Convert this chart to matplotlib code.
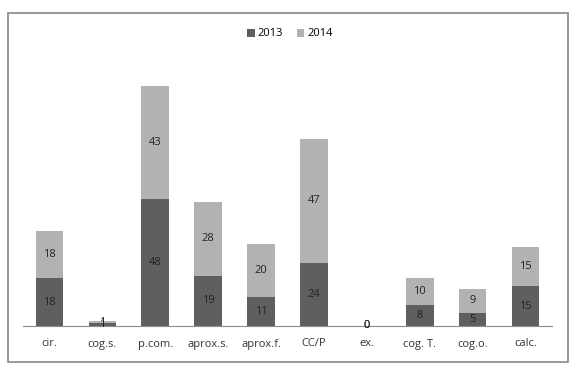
import numpy as np
import matplotlib.pyplot as plt
from matplotlib.patches import Rectangle

plt.rcParams['font.family'] = ['Open Sans', 'DejaVu Sans']

categories = ["cir.", "cog.s.", "p.com.", "aprox.s.", "aprox.f.", "CC/P", "ex.", "cog. T.", "cog.o.", "calc."]
v2013 = [18, 1, 48, 19, 11, 24, 0, 8, 5, 15]
v2014 = [18, 1, 43, 28, 20, 47, 0, 10, 9, 15]

c2013 = '#5f5f5f'
c2014 = '#b2b2b2'

W, H = 577, 373
fig = plt.figure(figsize=(W / 100, H / 100), dpi=100)
fig.patches.append(Rectangle((8 / W, 1 - 362 / H), 560 / W, 349 / H,
                             transform=fig.transFigure, fill=False,
                             edgecolor='#878787', linewidth=1.2))

ax = fig.add_axes([23 / W, 1 - 326 / H, 529 / W, 264 / H])
x = np.arange(len(categories))
b1 = ax.bar(x, v2013, 0.52, color=c2013, label='2013')
b2 = ax.bar(x, v2014, 0.52, bottom=v2013, color=c2014, label='2014')

for i in range(len(categories)):
    ax.text(x[i], v2013[i] / 2, str(v2013[i]), ha='center', va='center', fontsize=8, color='#222222')
    ax.text(x[i], v2013[i] + v2014[i] / 2, str(v2014[i]), ha='center', va='center', fontsize=8, color='#222222')

ax.set_xlim(-0.5, len(categories) - 0.5)
ax.set_ylim(0, 100)
ax.set_yticks([])
ax.set_xticks(x)
ax.set_xticklabels(categories, fontsize=8, color='#333333')
ax.tick_params(axis='x', length=0, pad=9)
for s in ['top', 'right', 'left']:
    ax.spines[s].set_visible(False)
ax.spines['bottom'].set_color('#8c8c8c')

fig.legend(handles=[b1, b2], loc='center', bbox_to_anchor=(290 / W, 1 - 34 / H),
           ncol=2, frameon=False, fontsize=8, handlelength=0.7, handleheight=0.7,
           columnspacing=1.2, handletextpad=0.3)

fig.savefig('out.png', dpi=100)
